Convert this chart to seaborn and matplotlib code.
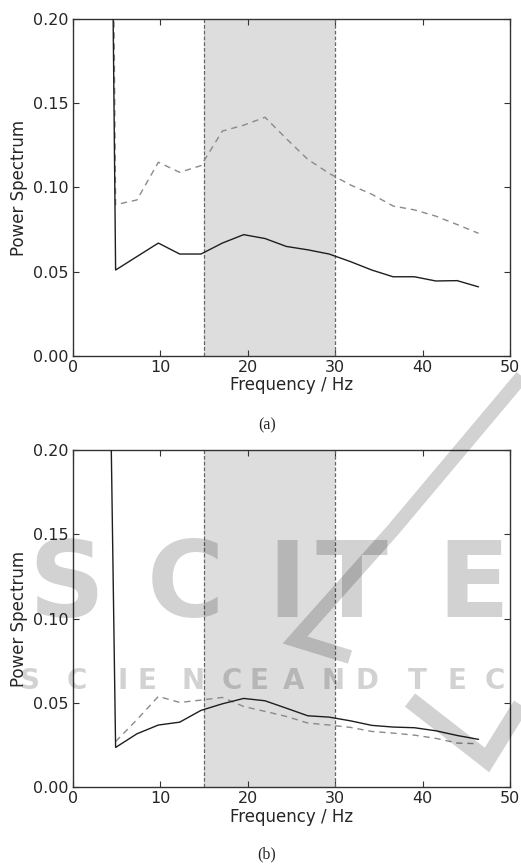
import matplotlib
matplotlib.use("Agg")
import matplotlib.pyplot as plt
import pandas as pd
import seaborn as sns
from matplotlib.lines import Line2D

sns.set_style("ticks", {"xtick.direction": "in", "ytick.direction": "in"})
plt.rcParams["font.family"] = ["DejaVu Sans"]

# spectrum bins (Hz)
freqs = [2.44, 4.88, 7.32, 9.77, 12.21, 14.65, 17.09, 19.53, 21.97, 24.41,
         26.86, 29.30, 31.74, 34.18, 36.62, 39.06, 41.50, 43.95, 46.39]

# panel (a)
power_a_solid = [1.35, 0.051, 0.059, 0.067, 0.0605, 0.0605, 0.067, 0.072, 0.0697, 0.065,
                 0.063, 0.0605, 0.056, 0.051, 0.047, 0.047, 0.0445, 0.0447, 0.041]
power_a_dashed = [1.58, 0.0898, 0.0926, 0.115, 0.109, 0.113, 0.1335, 0.137, 0.1417, 0.129,
                  0.1167, 0.1084, 0.1015, 0.096, 0.089, 0.0867, 0.083, 0.078, 0.0728]

# panel (b)
power_b_solid = [0.9, 0.0235, 0.0316, 0.0368, 0.0385, 0.0455, 0.0494, 0.0526, 0.0512, 0.0468,
                 0.0423, 0.0415, 0.0393, 0.0366, 0.0356, 0.0352, 0.0334, 0.0306, 0.0283]
power_b_dashed = [None, 0.027, 0.040, 0.0538, 0.0502, 0.0516, 0.0532, 0.0478, 0.0449, 0.0419,
                  0.038, 0.0368, 0.0354, 0.033, 0.032, 0.0308, 0.0289, 0.0261, 0.0257]

band = (15, 30)
captions = ["(a)", "(b)"]


def spectrum_panel(ax, solid, dashed, caption, cap_y, fig):
    """One power spectrum panel with the shaded beta band."""
    ax.axvspan(band[0], band[1], color="#dddddd", lw=0, zorder=0)
    for f in band:
        ax.axvline(f, color="#666666", lw=0.9, dashes=(3, 1.6), zorder=1)

    df_solid = pd.DataFrame({"freq": freqs, "power": solid}).dropna()
    df_dashed = pd.DataFrame({"freq": freqs, "power": dashed}).dropna()
    sns.lineplot(data=df_dashed, x="freq", y="power", ax=ax, color="#8a8a8a",
                 lw=1.0, dashes=False, zorder=2).lines[-1].set_dashes((4.5, 3.5))
    sns.lineplot(data=df_solid, x="freq", y="power", ax=ax, color="#1e1e1e",
                 lw=1.0, zorder=3)

    ax.set_xlim(0, 50)
    ax.set_ylim(0, 0.2)
    ax.set_xticks([0, 10, 20, 30, 40, 50])
    ax.set_yticks([0.0, 0.05, 0.10, 0.15, 0.20])
    ax.set_yticklabels(["0.00", "0.05", "0.10", "0.15", "0.20"])
    ax.tick_params(axis="both", which="major", labelsize=11.5, top=True, right=True,
                   length=4, width=0.8, color="#333333", pad=3)
    for sp in ax.spines.values():
        sp.set_linewidth(1.0)
        sp.set_color("#333333")
    ax.set_xlabel("Frequency / Hz", fontsize=12, labelpad=1)
    ax.set_ylabel("Power Spectrum", fontsize=12, labelpad=4)
    fig.text(0.512, cap_y, caption, ha="center", va="center", fontsize=11.5,
             family=["Liberation Serif", "DejaVu Serif"])


fig = plt.figure(figsize=(5.21, 8.66), dpi=100)
ax_a = fig.add_axes([0.140, 0.589, 0.839, 0.389])
ax_b = fig.add_axes([0.140, 0.0912, 0.839, 0.389])

spectrum_panel(ax_a, power_a_solid, power_a_dashed, captions[0], 0.509, fig)
spectrum_panel(ax_b, power_b_solid, power_b_dashed, captions[1], 0.013, fig)

# faint publisher watermark lying over panel (b)
W, H = 521.0, 866.0
wm_alpha = 0.176
wm = dict(color="black", alpha=wm_alpha, weight="bold", va="baseline", ha="left")
for ch, x in zip("SCITE", [28, 147, 267, 315, 437]):
    fig.text(x / W, 1 - 617 / H, ch, fontsize=76, **wm)
small = [("S", 20), ("C", 67), ("I", 118), ("E", 138), ("N", 182), ("C", 222), ("E", 250),
         ("A", 283), ("N", 322), ("D", 355), ("T", 408), ("E", 448), ("C", 485)]
for ch, x in small:
    fig.text(x / W, 1 - 689 / H, ch, fontsize=20, **wm)
strokes = [
    ([540, 393, 295, 350], [355, 530, 640, 657], 10),
    ([410, 487, 521], [700, 760, 705], 12),
]
for xs, ys, lw in strokes:
    fig.add_artist(Line2D([x / W for x in xs], [1 - y / H for y in ys],
                          transform=fig.transFigure, color="black", alpha=wm_alpha,
                          lw=lw, solid_joinstyle="miter", solid_capstyle="butt"))

fig.savefig("out.png", dpi=100)
